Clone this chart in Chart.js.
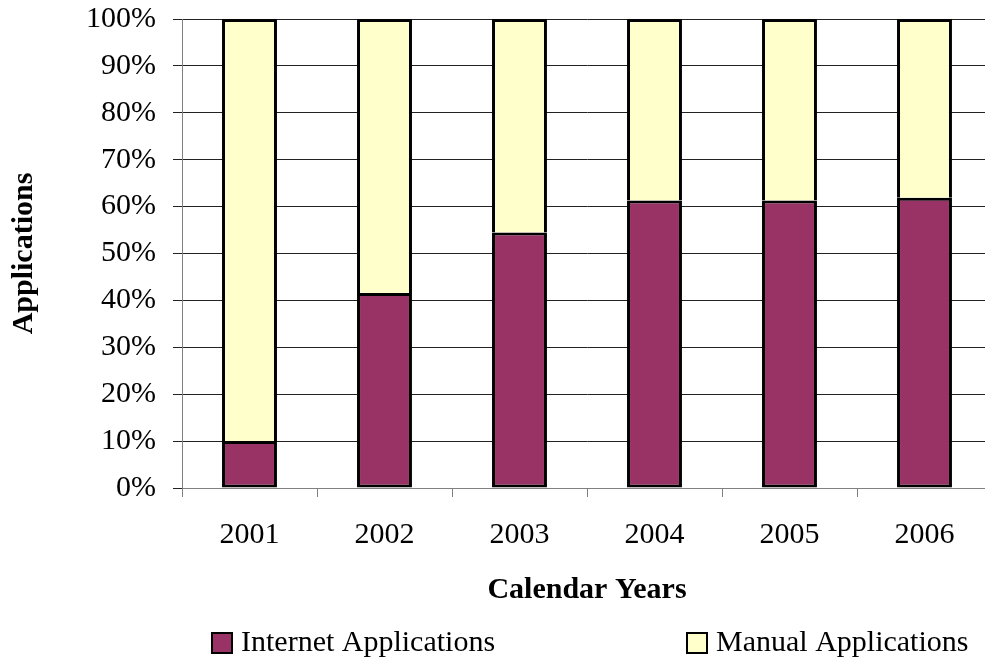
<!DOCTYPE html>
<html>
<head>
<meta charset="utf-8">
<script src="https://cdn.jsdelivr.net/npm/chart.js@4"></script>
<style>
  html, body { margin: 0; padding: 0; background: #fff; overflow: hidden; }
  #wrap { width: 995px; height: 661px; }
</style>
</head>
<body>
<div id="wrap"><canvas id="chart" width="995" height="661"></canvas></div>
<script>
// values (percent of applications)
const years = ['2001', '2002', '2003', '2004', '2005', '2006'];
const internetApps = [10, 41.6, 54.5, 61.3, 61.3, 61.9];
const manualApps = [90, 58.4, 45.5, 38.7, 38.7, 38.1];
const yTicks = [0, 10, 20, 30, 40, 50, 60, 70, 80, 90, 100];

const FONT = 'Liberation Serif, "Times New Roman", serif';

// Excel-style legend: two boxes spread under the plot
const legendBoxes = {
  id: 'legendBoxes',
  afterDraw(chart) {
    const ctx = chart.ctx;
    const spots = [212, 687];
    ctx.save();
    ctx.font = '30px ' + FONT;
    ctx.textBaseline = 'middle';
    ctx.textAlign = 'left';
    chart.data.datasets.forEach((ds, i) => {
      const x = spots[i];
      const y = 633;
      ctx.fillStyle = ds.backgroundColor;
      ctx.fillRect(x, y, 20, 20);
      ctx.lineWidth = 2;
      ctx.strokeStyle = '#000';
      ctx.strokeRect(x, y, 20, 20);
      ctx.fillStyle = '#000';
      ctx.fillText(ds.label, x + 29, y + 10);
    });
    ctx.restore();
  },
};

new Chart(document.getElementById('chart'), {
  type: 'bar',
  data: {
    labels: years,
    datasets: [
      {
        label: 'Internet Applications',
        data: internetApps,
        backgroundColor: '#993366',
        borderColor: '#000',
        borderWidth: 3,
        borderSkipped: false,
      },
      {
        label: 'Manual Applications',
        data: manualApps,
        backgroundColor: '#FFFFCC',
        borderColor: '#000',
        borderWidth: 3,
        borderSkipped: 'bottom',
      },
    ],
  },
  options: {
    responsive: false,
    animation: false,
    devicePixelRatio: 1,
    layout: { padding: { left: 0, top: 19, right: 3, bottom: 53 } },
    datasets: { bar: { categoryPercentage: 1, barPercentage: 0.407, inflateAmount: 0 } },
    plugins: {
      legend: { display: false },
      tooltip: { enabled: false },
    },
    scales: {
      x: {
        stacked: true,
        afterFit: s => { s.height = 120; },
        border: { color: '#808080', width: 1 },
        grid: { drawOnChartArea: false, drawTicks: true, tickLength: 9, color: '#808080' },
        ticks: { color: '#000', padding: 20, font: { family: FONT, size: 30 } },
        title: {
          display: true,
          text: 'Calendar Years',
          color: '#000',
          padding: { top: 0, bottom: 0 },
          font: { family: FONT, size: 30, weight: 'bold' },
        },
      },
      y: {
        stacked: true,
        min: 0,
        max: 100,
        afterFit: s => {
          s.width = 182;
          s.paddingTop = 0;
          s.paddingBottom = 0;
        },
        afterBuildTicks: s => { s.ticks = yTicks.map(v => ({ value: v })); },
        border: { color: '#808080', width: 1 },
        grid: { color: '#222', tickLength: 9, lineWidth: 1 },
        ticks: {
          color: '#000',
          padding: 17,
          font: { family: FONT, size: 30 },
          callback: v => v + '%',
        },
        title: {
          display: true,
          text: 'Applications',
          color: '#000',
          padding: { top: 6, bottom: 0 },
          font: { family: FONT, size: 30, weight: 'bold' },
        },
      },
    },
  },
  plugins: [legendBoxes],
});
</script>
</body>
</html>
